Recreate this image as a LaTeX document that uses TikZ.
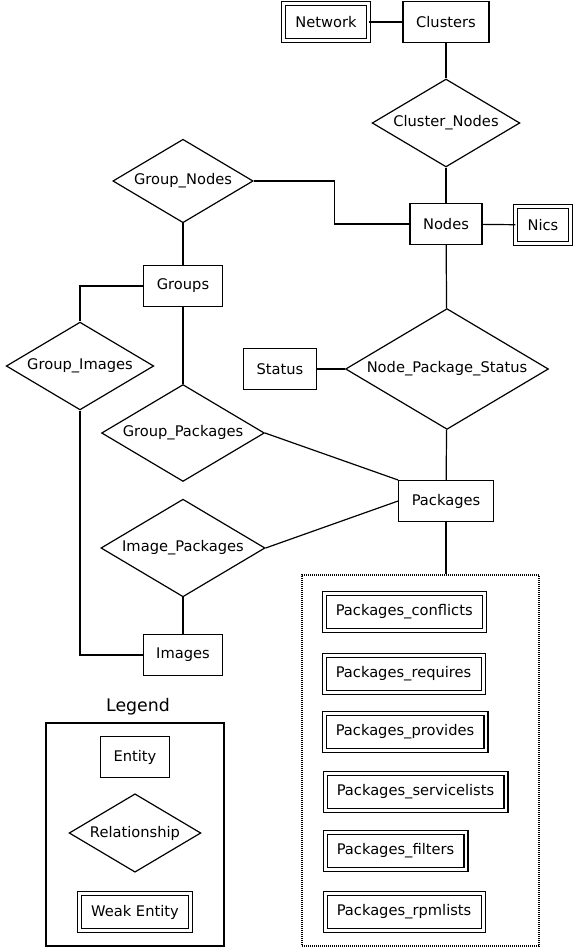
\documentclass[tikz,border=0pt]{standalone}
\usepackage{fontspec}
\setmainfont{DejaVu Sans}
\usetikzlibrary{shapes.geometric}

\begin{document}
\begin{tikzpicture}[x=0.75pt, y=-0.75pt, line width=0.9pt,
    every node/.style={font=\fontsize{11}{13}\selectfont},
    entity/.style={draw, rectangle, inner xsep=9.8pt, minimum height=30.6pt},
    weak/.style={draw, rectangle, double, double distance=2.2pt, line width=0.8pt,
                 inner xsep=8.8pt, minimum height=27.8pt},
    relation/.style={draw, diamond, aspect=1.68, inner sep=2.5pt}]
      \useasboundingbox (0, 0) rectangle (574, 949);

      \node[weak] (net) at (326, 22){Network};
      \node[entity] (clu) at (446, 22){Clusters};
      \node[relation] (clnodes) at (446, 123){Cluster\_Nodes};
      \node[entity] (nodes) at (446, 224){Nodes};
      \node[weak] (nics) at (543, 225){Nics};
      \node[relation] (grnodes) at (183, 181){Group\_Nodes};
      \node[entity] (groups) at (183, 286){Groups};
      \node[relation] (grimages) at (80, 366){Group\_Images};
      \node[relation] (grpkgs) at (183, 433){Group\_Packages};
      \node[entity] (status) at (280, 369){Status};
      \node[relation] (nps) at (447, 369){Node\_Package\_Status};
      \node[entity] (pkgs) at (446, 501){Packages};
      \node[relation] (imgpkgs) at (183, 548){Image\_Packages};
      \node[entity] (images) at (183, 655){Images};

      % package tables
      \node[draw, dash pattern=on 0.75pt off 0.75pt, minimum width=177.75pt,
            minimum height=278.25pt] (pkgbox) at (420.5, 760.5){};
      \node[weak, anchor=west] (conflicts) at (323.5, 612){Packages\_conflicts};
      \node[weak, anchor=west] (requires) at (323.5, 674){Packages\_requires};
      \node[weak, anchor=west] (provides) at (323.5, 732){Packages\_provides};
      \node[weak, anchor=west] (servlists) at (324.5, 792){Packages\_servicelists};
      \node[weak, anchor=west] (filters) at (324.5, 851){Packages\_filters};
      \node[weak, anchor=west] (rpmlists) at (324.5, 912){Packages\_rpmlists};

      \draw (net) -- (clu);
      \draw (clu) -- (clnodes);
      \draw (clnodes) -- (nodes);
      \draw (nodes) -- (nics);
      \draw (grnodes.east) -- ++(81, 0) |- (nodes.west);
      \draw (grnodes) -- (groups);
      \draw (groups.west) -| (grimages.north);
      \draw (grimages.south) |- (images.west);
      \draw (groups) -- (grpkgs);
      \draw (grpkgs.east) -- (pkgs.north west);
      \draw (imgpkgs.east) -- (pkgs.west);
      \draw (imgpkgs) -- (images);
      \draw (nodes) -- (nps);
      \draw (status) -- (nps);
      \draw (nps) -- (pkgs);
      \draw (pkgs.south) -- (pkgs.south |- pkgbox.north);

      % legend
      \node (legtitle) at (138, 707){\fontsize{13}{15}\selectfont Legend};
      \node[draw, minimum width=133.5pt, minimum height=167.25pt] (legbox) at (135, 834.5){};
      \node[entity] (lentity) at (135, 757){Entity};
      \node[relation] (lrel) at (135, 833){Relationship};
      \node[weak] (lweak) at (135, 912){Weak Entity};
    \end{tikzpicture}
\end{document}
